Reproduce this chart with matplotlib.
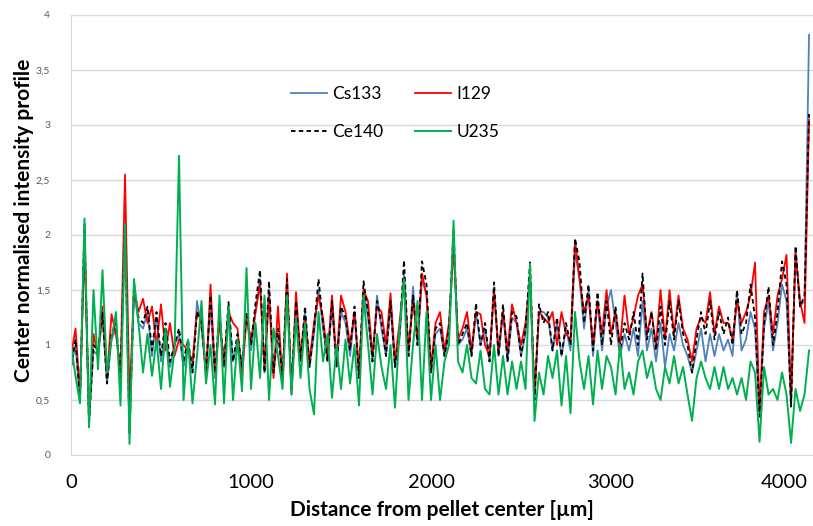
import numpy as np
import matplotlib
matplotlib.use("Agg")
import matplotlib.pyplot as plt
import matplotlib.transforms as mtransforms

# distance grid [µm], sampled every 25 µm
distance = np.arange(0, 4101, 25)

cs133 = [0.8, 1.0, 0.5, 2.05, 0.3, 0.95, 0.9, 1.25,
         0.65, 1.05, 1.15, 0.7, 2.05, 0.2, 1.5, 1.2,
         1.15, 1.3, 0.9, 1.25, 0.85, 1.15, 0.8, 1.0,
         1.1, 0.8, 1.0, 0.75, 1.4, 1.15, 0.75, 1.35,
         0.7, 1.25, 0.8, 1.35, 0.85, 1.05, 0.8, 1.25,
         0.95, 1.3, 1.6, 0.75, 1.5, 0.75, 1.1, 0.7,
         1.5, 0.6, 1.35, 0.85, 1.3, 0.8, 1.1, 1.5,
         1.15, 0.85, 1.35, 0.8, 1.3, 1.2, 0.9, 1.3,
         0.7, 1.5, 1.25, 0.85, 1.45, 1.15, 0.9, 1.35,
         0.8, 1.05, 1.65, 0.9, 1.53, 1.0, 1.6, 1.45,
         0.75, 1.1, 1.15, 0.9, 1.1, 1.95, 1.0, 1.05,
         1.15, 0.9, 1.3, 1.0, 1.15, 0.85, 1.5, 0.9,
         1.3, 0.85, 1.25, 1.2, 0.9, 1.1, 1.65, 0.5,
         1.3, 1.3, 1.25, 0.95, 1.2, 0.9, 1.15, 0.95,
         1.85, 1.6, 1.15, 1.5, 0.9, 1.4, 0.95, 1.35,
         1.5, 1.2, 0.9, 1.1, 0.95, 1.15, 0.9, 1.4,
         0.95, 1.15, 0.85, 1.2, 0.8, 1.1, 0.95, 1.2,
         1.0, 0.9, 0.75, 0.95, 1.15, 0.85, 1.1, 0.9,
         1.1, 0.95, 1.05, 0.9, 1.48, 0.95, 1.05, 1.3,
         1.15, 0.35, 1.15, 1.4, 0.95, 1.2, 1.55, 1.4,
         0.45, 1.85, 1.35, 1.4, 3.82]

i129 = [0.9, 1.15, 0.55, 1.9, 0.35, 1.1, 0.9, 1.35,
        0.7, 1.28, 1.1, 0.75, 2.55, 0.5, 1.5, 1.3,
        1.42, 1.2, 1.35, 1.0, 1.37, 0.95, 1.2, 0.9,
        1.05, 1.0, 0.95, 0.85, 1.3, 1.25, 0.7, 1.55,
        0.75, 1.2, 0.85, 1.3, 1.2, 1.15, 0.7, 1.25,
        1.05, 1.3, 1.55, 0.8, 1.45, 0.7, 1.35, 0.65,
        1.65, 0.55, 1.48, 0.9, 1.25, 0.85, 1.2, 1.45,
        1.25, 0.9, 1.45, 0.85, 1.45, 1.3, 1.0, 1.3,
        0.75, 1.5, 1.4, 0.9, 1.35, 1.3, 1.0, 1.47,
        0.85, 1.2, 1.6, 0.95, 1.4, 1.05, 1.65, 1.45,
        0.8, 1.2, 1.3, 0.95, 1.2, 1.9, 1.05, 1.15,
        1.3, 0.95, 1.3, 1.28, 1.0, 0.9, 1.5, 0.95,
        1.3, 0.95, 1.37, 1.2, 1.0, 1.2, 1.6, 0.55,
        1.3, 1.25, 1.2, 1.3, 1.0, 1.3, 1.1, 1.05,
        1.95, 1.6, 1.3, 1.45, 1.0, 1.4, 1.1, 1.5,
        1.1, 1.3, 1.0, 1.45, 1.1, 1.25, 1.45, 1.55,
        1.1, 1.3, 1.0, 1.5, 1.05, 1.5, 1.1, 1.45,
        1.15, 1.05, 0.85, 1.15, 1.25, 1.2, 1.48, 1.1,
        1.35, 1.2, 1.2, 1.05, 1.4, 1.2, 1.3, 1.45,
        1.75, 0.4, 1.3, 1.45, 1.1, 1.45, 1.6, 1.82,
        0.5, 1.85, 1.4, 1.2, 3.05]

ce140 = [0.8, 1.05, 0.5, 2.1, 0.28, 1.0, 0.95, 1.3,
         0.65, 1.1, 1.2, 0.7, 2.1, 0.2, 1.55, 1.25,
         1.2, 1.35, 0.95, 1.3, 0.9, 1.2, 0.85, 1.0,
         1.15, 0.85, 1.05, 0.75, 1.3, 1.2, 0.75, 1.45,
         0.75, 1.3, 0.8, 1.39, 0.85, 1.1, 0.8, 1.3,
         1.0, 1.38, 1.68, 0.75, 1.58, 0.75, 1.15, 0.7,
         1.6, 0.6, 1.4, 0.85, 1.35, 0.8, 1.15, 1.6,
         1.2, 0.85, 1.4, 0.8, 1.35, 1.25, 0.95, 1.35,
         0.7, 1.58, 1.3, 0.85, 1.4, 1.2, 0.9, 1.4,
         0.8, 1.1, 1.77, 0.9, 1.45, 1.0, 1.76, 1.55,
         0.75, 1.15, 1.2, 0.9, 1.15, 2.05, 1.0, 1.1,
         1.2, 0.9, 1.38, 1.0, 1.2, 0.85, 1.57, 0.9,
         1.37, 0.85, 1.3, 1.26, 0.9, 1.15, 1.75, 0.5,
         1.37, 1.2, 1.3, 0.95, 1.25, 0.9, 1.2, 1.0,
         1.97, 1.75, 1.2, 1.55, 0.95, 1.48, 1.0, 1.4,
         1.0, 1.35, 0.95, 1.2, 1.05, 1.3, 1.0, 1.65,
         1.05, 1.3, 0.95, 1.35, 1.0, 1.4, 1.05, 1.4,
         1.1, 1.0, 0.75, 1.05, 1.3, 1.1, 1.4, 1.05,
         1.3, 1.1, 1.25, 1.0, 1.5, 1.1, 1.2, 1.55,
         1.25, 0.35, 1.2, 1.53, 1.0, 1.3, 1.76, 1.55,
         0.44, 1.9, 1.35, 1.45, 3.1]

u235 = [1.0, 0.72, 0.47, 2.15, 0.25, 1.5, 0.78, 1.68,
        0.75, 1.05, 1.3, 0.45, 2.1, 0.1, 1.6, 1.2,
        0.75, 1.1, 0.72, 1.05, 0.6, 1.15, 0.62, 0.95,
        2.72, 0.5, 1.05, 0.47, 0.9, 1.4, 0.65, 1.0,
        0.46, 1.45, 0.47, 1.35, 0.5, 1.05, 0.58, 1.7,
        0.6, 1.2, 0.7, 1.45, 0.5, 1.15, 0.9, 0.6,
        1.45, 0.55, 1.25, 0.7, 1.2, 0.6, 0.37, 1.3,
        0.85, 1.1, 0.52, 1.0, 0.6, 1.05, 0.65, 1.0,
        0.45, 1.45, 1.0, 0.55, 1.1, 0.8, 0.6, 1.0,
        0.43, 1.15, 1.6, 0.5, 1.0, 1.4, 0.5, 1.3,
        0.5, 1.0, 0.5, 0.85, 1.0, 2.13, 0.85, 0.75,
        1.0, 0.7, 0.65, 0.95, 0.6, 0.55, 1.0, 0.55,
        0.9, 0.55, 0.85, 0.6, 0.85, 0.6, 1.74, 0.31,
        0.75, 0.55, 0.9, 0.7, 0.95, 0.45, 0.9, 0.38,
        1.3, 0.85, 0.6, 0.9, 0.46, 0.95, 0.6, 0.9,
        0.8, 0.55, 1.0, 0.6, 0.75, 0.55, 0.85, 0.95,
        0.7, 0.85, 0.6, 0.5, 0.8, 0.65, 0.9, 0.65,
        0.8, 0.55, 0.31, 0.7, 0.85, 0.7, 0.6, 0.8,
        0.6, 0.8, 0.6, 0.7, 0.55, 0.7, 0.5, 0.85,
        0.75, 0.12, 0.8, 0.55, 0.6, 0.5, 0.75, 0.55,
        0.11, 0.6, 0.4, 0.55, 0.95]

x_ticks = [0, 1000, 2000, 3000, 4000]
y_ticks = [0, 0.5, 1, 1.5, 2, 2.5, 3, 3.5, 4]
y_tick_labels = ["0", "0,5", "1", "1,5", "2", "2,5", "3", "3,5", "4"]

plt.rcParams['font.family'] = ['Lato', 'DejaVu Sans']

fig = plt.figure(figsize=(8.13, 5.26), dpi=100)
ax = fig.add_axes([71/813, 1 - 455/526, (813 - 71)/813, (455 - 15)/526])

l_cs, = ax.plot(distance, cs133, color='#4F81BD', lw=1.3, label='Cs133')
l_i, = ax.plot(distance, i129, color='#FF0000', lw=1.3, label='I129')
l_ce, = ax.plot(distance, ce140, color='black', lw=1.3, ls=(0, (2.5, 1.8)), label='Ce140')
l_u, = ax.plot(distance, u235, color='#00B050', lw=1.4, label='U235')

ax.set_xlim(0, 4122)
ax.set_ylim(0, 4)
ax.set_yticks(y_ticks)
ax.set_yticklabels(y_tick_labels, fontsize=7.5, color='#595959')
ax.set_xticks(x_ticks)
ax.set_xticklabels([str(v) for v in x_ticks], fontsize=14.5, color='black')
ax.tick_params(axis='both', length=0)
ax.tick_params(axis='y', pad=15)
ax.tick_params(axis='x', pad=14)
last = ax.get_xticklabels()[-1]
last.set_transform(last.get_transform() +
                   mtransforms.ScaledTranslation(-5/72, 0, fig.dpi_scale_trans))
ax.yaxis.grid(True, color='#D9D9D9', lw=1)
ax.set_axisbelow(True)
for s in ['top', 'right']:
    ax.spines[s].set_visible(False)
ax.spines['left'].set_color('#D9D9D9')
ax.spines['bottom'].set_color('#D9D9D9')

ax.set_ylabel('Center normalised intensity profile', fontsize=15, fontweight='bold')
ax.yaxis.set_label_coords(-0.05, 0.534)
ax.set_xlabel('Distance from pellet center [µm]', fontsize=15, fontweight='bold', labelpad=6)

leg = fig.legend(handles=[l_cs, l_ce, l_i, l_u], ncol=2, frameon=False,
                 loc='upper left', bbox_to_anchor=(282/813, 1 - 77/526),
                 fontsize=12.5, handlelength=2.1, handletextpad=0.3,
                 columnspacing=1.8, labelspacing=1.3, borderpad=0)

fig.savefig('out.png', dpi=100)
